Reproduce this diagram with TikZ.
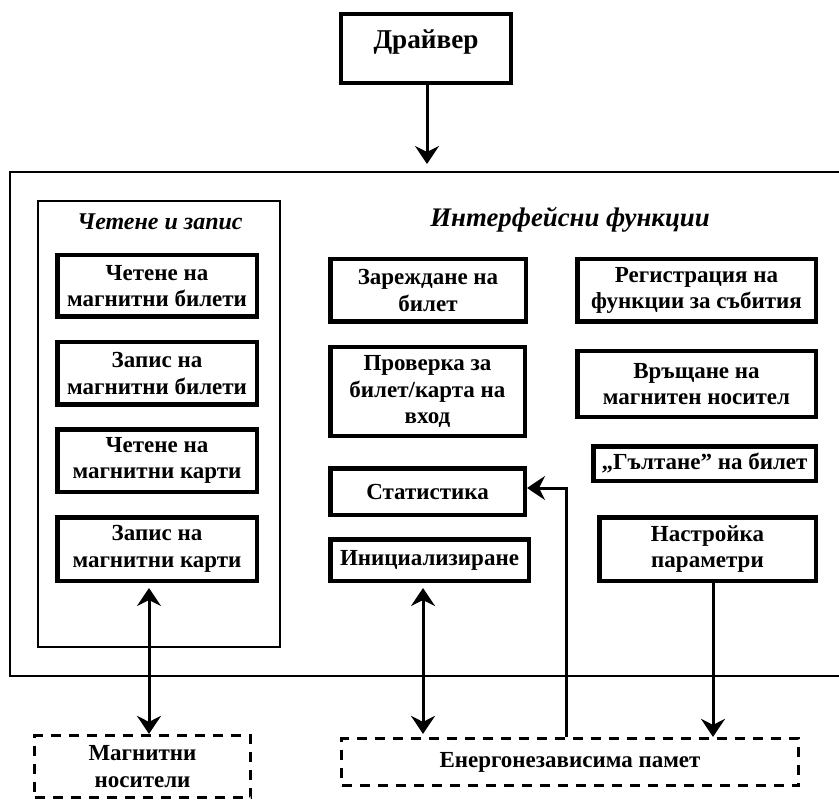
\documentclass[tikz,border=0pt]{standalone}
\usepackage{fontspec}
\setmainfont{Liberation Serif}
\usetikzlibrary{arrows.meta}
\begin{document}
\begin{tikzpicture}[x=0.5pt,y=-0.5pt,
  fbox/.style={draw, line width=2.25pt, inner sep=0pt, align=center,
    font=\bfseries\fontsize{11.5}{13.2}\selectfont},
  dbox/.style={draw, line width=1.6pt, dash pattern=on 5pt off 4pt, inner sep=0pt, align=center,
    font=\bfseries\fontsize{11.5}{13.4}\selectfont},
  ttl/.style={inner sep=0pt, font=\bfseries\itshape\fontsize{12}{14}\selectfont},
  tip/.tip={Stealth[length=9pt,width=12pt,inset=3pt]},
  arr/.style={line width=1.5pt, -tip},
  barr/.style={line width=1.5pt, tip-tip}
]
\useasboundingbox (0,0) rectangle (839,801);
% outer frame (open to the right)
\draw[line width=1pt] (839,172) -- (10,172) -- (10,676) -- (839,676);
% driver
\node[draw, line width=2pt, minimum width=85pt, minimum height=34.5pt, inner sep=0pt] (drv) at (426,48.5) {};
\node[inner sep=0pt, font=\bfseries\fontsize{13.6}{15}\selectfont] (drvt) at (426,42) {Драйвер};
\coordinate (drvend) at (427,164);
\draw[arr] (drv.south -| drvend) -- (drvend);
% inner group
\node[draw, line width=1.3pt, minimum width=121pt, minimum height=223pt, inner sep=0pt] (grp) at (159,424) {};
\node[ttl] (grpt) at (160,222) {Четене и запис};
\node[ttl, font=\bfseries\itshape\fontsize{13.4}{15}\selectfont] (ift) at (570,220) {Интерфейсни функции};
% left column
\node[fbox, minimum width=99.75pt, minimum height=30.75pt] (l1) at (157,286) {Четене на\\магнитни билети};
\node[fbox, minimum width=99.75pt, minimum height=31.25pt] (l2) at (157,373.5) {Запис на\\магнитни билети};
\node[fbox, minimum width=99.75pt, minimum height=31.25pt] (l3) at (157,460.5) {Четене на\\магнитни карти};
\node[fbox, minimum width=99.75pt, minimum height=31.75pt] (l4) at (157,549) {Запис на\\магнитни карти};
% middle column
\node[fbox, minimum width=97.75pt, minimum height=31.25pt] (m1) at (428,290.5) {Зареждане на\\билет};
\node[fbox, minimum width=97.25pt, minimum height=44.25pt] (m2) at (427.5,391.5) {Проверка за\\билет/карта на\\вход};
\node[fbox, minimum width=97.25pt, minimum height=23.25pt] (m3) at (427.5,491.5) {Статистика};
\node[fbox, minimum width=99.25pt, minimum height=20.75pt] (m4) at (429.5,560) {Инициализиране};
% right column
\node[fbox, minimum width=119.25pt, minimum height=31.25pt] (r1) at (696.5,290.5) {Регистрация на\\функции за събития};
\node[fbox, minimum width=119.25pt, minimum height=32.75pt] (r2) at (696.5,384) {Връщане на\\магнитен носител};
\node[fbox, minimum width=111.25pt, minimum height=17.25pt] (r3) at (704.5,463.5) {„Гълтане” на билет};
\node[fbox, minimum width=108.25pt, minimum height=31.75pt] (r4) at (707.5,549) {Настройка\\параметри};
% external
\node[dbox, minimum width=108pt, minimum height=31pt] (mag) at (142.5,766.5) {Магнитни\\носители};
\node[dbox, minimum width=228.5pt, minimum height=23.5pt] (nvm) at (570,762) {Енергонезависима памет};
% connectors
\coordinate (ca) at (149,0);
\draw[barr, shorten <=2.5pt] (l4.south -| ca) -- (mag.north -| ca);
\coordinate (cb) at (423,0);
\draw[barr, shorten <=2.5pt, shorten >=1.5pt] (m4.south -| cb) -- (nvm.north -| cb);
\coordinate (cc) at (566,488);
\draw[arr] (nvm.north -| cc) |- (m3.east |- cc);
\coordinate (cd) at (713,0);
\draw[arr] (r4.south -| cd) -- (nvm.north -| cd);
\end{tikzpicture}
\end{document}
